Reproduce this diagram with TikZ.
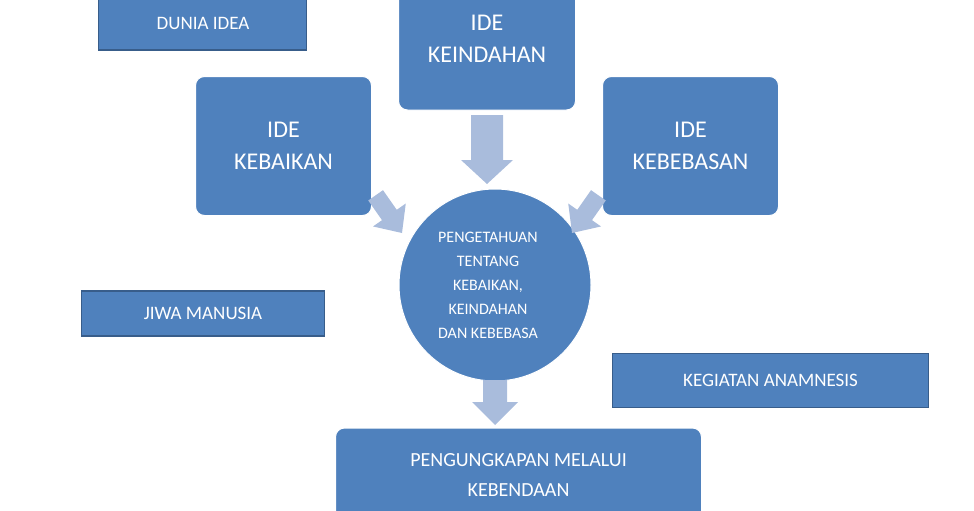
\documentclass[tikz,border=0pt]{standalone}
\usepackage{fontspec}
\setmainfont{Carlito}
\begin{document}
\begin{tikzpicture}[x=1pt,y=-1pt,
  box/.style={fill=bfill,draw=bdraw,line width=1.5pt,text=white,align=center,inner sep=0pt},
  rbox/.style={fill=bfill,draw=white,line width=1pt,rounded corners=9pt,text=white,align=center,inner sep=0pt},
  barrow/.style={fill=afill}]
\definecolor{bfill}{HTML}{4F81BD}
\definecolor{bdraw}{HTML}{385D8A}
\definecolor{afill}{HTML}{A9BCDC}
\useasboundingbox (0,0) rectangle (974,511);
\begin{scope}
\clip (0,0) rectangle (974,511);
\node[box,minimum width=208pt,minimum height=56pt,font=\fontsize{19}{22}\selectfont] (dunia) at (202.5,22) {};
\node[font=\fontsize{19}{22}\selectfont,text=white] at (203,23) {DUNIA IDEA};
\node[rbox,minimum width=177pt,minimum height=130pt] (keind) at (487,45) {};
\node[font=\fontsize{24}{32}\selectfont,text=white,align=center] at (487,39) {IDE\\KEINDAHAN};
\node[rbox,minimum width=176pt,minimum height=139pt,font=\fontsize{24}{32}\selectfont] (keb) at (283.5,146) {IDE\\KEBAIKAN};
\node[rbox,minimum width=176pt,minimum height=139pt,font=\fontsize{24}{32}\selectfont] (bebas) at (690.5,146) {IDE\\KEBEBASAN};
\node[box,minimum width=243pt,minimum height=45pt,font=\fontsize{19}{22}\selectfont] (jiwa) at (203,313.5) {JIWA MANUSIA};
\node[box,minimum width=316pt,minimum height=54pt,font=\fontsize{19}{22}\selectfont] (keg) at (770.5,380.5) {KEGIATAN ANAMNESIS};
\node[rbox,minimum width=366pt,minimum height=110pt] (peng) at (518.5,483) {};
\node[font=\fontsize{20}{30}\selectfont,text=white,align=center] at (518.5,475) {PENGUNGKAPAN MELALUI\\KEBENDAAN};
\node[circle,fill=bfill,draw=white,line width=1pt,minimum size=192pt,inner sep=0pt] (cir) at (495,285) {};
\node[font=\fontsize{16}{24}\selectfont,text=white,align=center] at (488,285) {PENGETAHUAN\\TENTANG\\KEBAIKAN,\\KEINDAHAN\\DAN KEBEBASA};
% block arrows
\fill[barrow] (471,115) -- (503,115) -- (503,160) -- (513,160) -- (487,184) -- (461,160) -- (471,160) -- cycle;
\fill[barrow] (483,380) -- (507,380) -- (507,402) -- (518,402) -- (495,425) -- (472,402) -- (483,402) -- cycle;
\begin{scope}[shift={(402,233)},rotate=-55]
\fill[barrow] (0,0) -- (-22,-20) -- (-22,-9) -- (-46,-9) -- (-46,9) -- (-22,9) -- (-22,20) -- cycle;
\end{scope}
\begin{scope}[shift={(572,233)},rotate=55]
\fill[barrow] (0,0) -- (22,-20) -- (22,-9) -- (46,-9) -- (46,9) -- (22,9) -- (22,20) -- cycle;
\end{scope}
\end{scope}
\end{tikzpicture}
\end{document}
